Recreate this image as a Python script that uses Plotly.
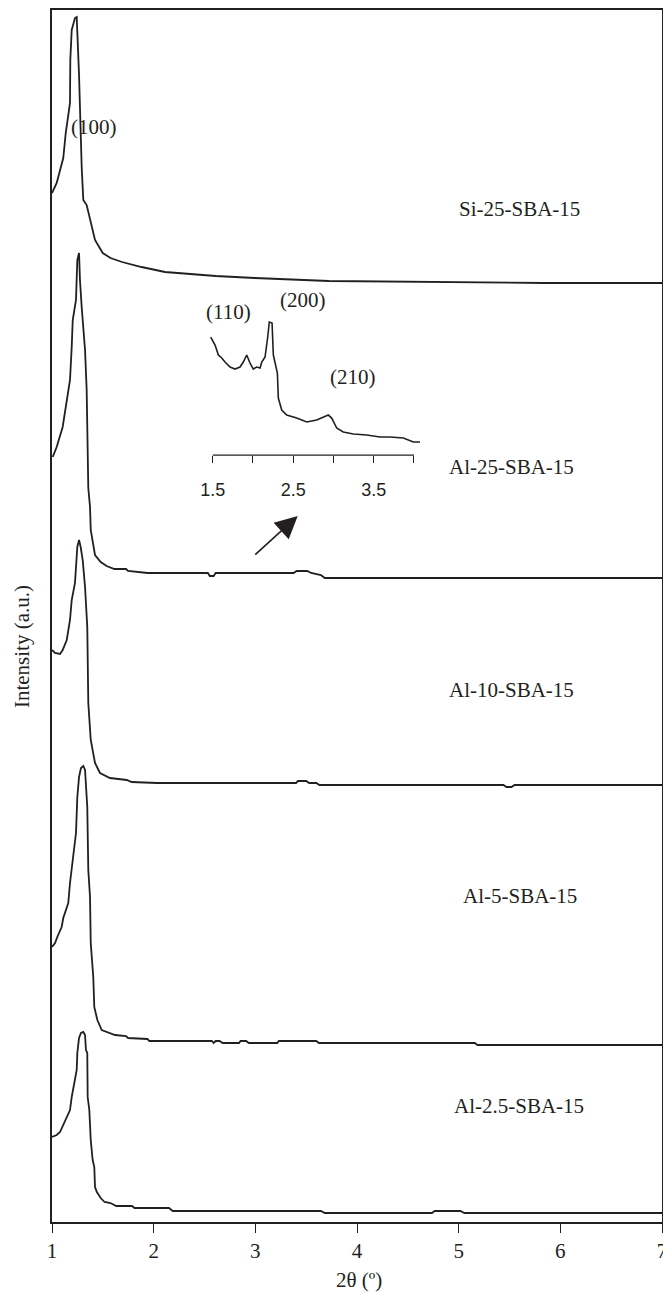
import plotly.graph_objects as go

# ---------------- data (2θ in degrees, intensity in arbitrary units) ----------------
si25_x = [1.000, 1.046, 1.111, 1.135, 1.177, 1.180, 1.194, 1.226, 1.243, 1.266, 1.292, 1.308, 1.341,
          1.423, 1.499, 1.575, 1.689, 1.881, 2.111, 2.322, 2.610, 2.993, 3.722, 5.849, 7.0]
si25_y = [90, 100, 125, 150, 180, 223, 253, 265, 266, 208, 116, 83, 78,
          43, 30, 25, 21, 16, 11, 9, 7, 5, 2, 0, 0]
si25_offset = 939

al25_x = [1.007, 1.046, 1.105, 1.145, 1.177, 1.194, 1.204, 1.236, 1.249, 1.266, 1.275, 1.292, 1.325,
          1.341, 1.357, 1.374, 1.381, 1.423, 1.479, 1.537, 1.614, 1.728, 1.748, 1.939, 2.533, 2.552,
          2.590, 2.610, 3.376, 3.407, 3.511, 3.549, 3.587, 3.645, 3.683, 7.0]
al25_y = [121, 131, 151, 178, 198, 231, 258, 278, 318, 325, 298, 271, 228,
          188, 90, 71, 48, 23, 16, 12, 9, 9, 7, 5, 5, 2,
          2, 5, 5, 7, 7, 5, 4, 3, 0, 0]
al25_offset = 644

al10_x = [1.000, 1.030, 1.079, 1.105, 1.145, 1.177, 1.194, 1.226, 1.249, 1.266, 1.282, 1.302, 1.325,
          1.347, 1.357, 1.381, 1.423, 1.472, 1.570, 1.735, 1.784, 2.030, 3.400, 3.420, 3.500, 3.530,
          3.600, 3.630, 5.440, 5.470, 5.520, 5.550, 7.0]
al10_y = [135, 132, 131, 135, 145, 165, 185, 202, 238, 245, 238, 225, 198,
          158, 82, 45, 22, 12, 7, 5, 3, 2, 2, 4, 4, 2,
          2, 0, 0, -2, -2, 0, 0]
al10_offset = 437

al5_x = [1.000, 1.030, 1.052, 1.095, 1.111, 1.160, 1.177, 1.209, 1.236, 1.249, 1.266, 1.285, 1.308,
         1.325, 1.334, 1.347, 1.357, 1.374, 1.381, 1.406, 1.416, 1.446, 1.489, 1.538, 1.620, 1.728,
         1.748, 1.939, 1.958, 2.572, 2.590, 2.610, 2.648, 2.679, 2.839, 2.855, 2.909, 2.936, 3.216,
         3.231, 3.599, 3.626, 5.158, 5.186, 7.0]
al5_y = [98, 102, 108, 118, 127, 142, 162, 188, 212, 248, 268, 277, 279,
         275, 262, 238, 175, 148, 102, 68, 38, 25, 15, 13, 10, 9,
         7, 6, 4, 4, 2, 4, 4, 2, 2, 4, 4, 2, 2,
         4, 4, 2, 2, 0, 0]
al5_offset = 177

al25b_x = [1.000, 1.046, 1.079, 1.111, 1.145, 1.177, 1.194, 1.216, 1.243, 1.249, 1.266, 1.285, 1.308,
           1.325, 1.334, 1.347, 1.351, 1.367, 1.381, 1.400, 1.416, 1.423, 1.441, 1.479, 1.517, 1.575,
           1.632, 1.786, 1.812, 2.150, 2.188, 3.645, 3.683, 4.737, 4.764, 5.017, 5.056, 7.0]
al25b_y = [76, 78, 81, 88, 95, 103, 116, 130, 143, 160, 175, 180, 181,
           178, 163, 160, 116, 103, 73, 53, 46, 26, 21, 15, 11, 10,
           7, 7, 5, 5, 2, 2, 0, 0, 2, 2, 0, 0]
al25b_offset = 9

# inset: enlarged Al-25-SBA-15 pattern
inset_x = [1.475, 1.529, 1.570, 1.612, 1.653, 1.715, 1.777, 1.839, 1.880, 1.922, 1.963, 2.004, 2.046,
           2.088, 2.109, 2.150, 2.183, 2.203, 2.237, 2.253, 2.303, 2.315, 2.357, 2.419, 2.543, 2.668,
           2.792, 2.874, 2.936, 2.978, 3.040, 3.122, 3.247, 3.413, 3.578, 3.702, 3.868, 3.992, 4.075]
inset_y = [118, 110, 100, 97, 93, 88, 86, 88, 93, 100, 92, 86, 88,
           87, 93, 98, 118, 133, 132, 100, 82, 57, 45, 40, 37, 33,
           35, 38, 40, 37, 27, 23, 21, 20, 18, 18, 17, 13, 13]

series_names = ["Si-25-SBA-15", "Al-25-SBA-15", "Al-10-SBA-15", "Al-5-SBA-15", "Al-2.5-SBA-15"]
main_ticks = [1, 2, 3, 4, 5, 6, 7]
inset_ticks = [1.5, 2.0, 2.5, 3.0, 3.5, 4.0]
inset_ticktext = ["1.5", "", "2.5", "", "3.5", ""]
peak_labels = ["(110)", "(200)", "(210)"]

# ---------------- figure ----------------
INK = "#231f20"
SERIF = "Liberation Serif, Times New Roman, serif"
SANS = "Liberation Sans, Arial, sans-serif"

fig = go.Figure()
series = [
    (si25_x, si25_y, si25_offset),
    (al25_x, al25_y, al25_offset),
    (al10_x, al10_y, al10_offset),
    (al5_x, al5_y, al5_offset),
    (al25b_x, al25b_y, al25b_offset),
]
for name, (xs, ys, off) in zip(series_names, series):
    fig.add_trace(go.Scatter(x=xs, y=[v + off for v in ys], mode="lines", name=name,
                             line=dict(color=INK, width=1.8), showlegend=False,
                             xaxis="x", yaxis="y"))

fig.add_trace(go.Scatter(x=inset_x, y=inset_y, mode="lines", name="inset",
                         line=dict(color=INK, width=1.6), showlegend=False,
                         xaxis="x2", yaxis="y2"))

fig.update_layout(
    width=663, height=1292,
    margin=dict(l=52, r=1, t=10, b=70, autoexpand=False),
    paper_bgcolor="white", plot_bgcolor="white",
    xaxis=dict(range=[1, 7], domain=[0, 1], tickvals=main_ticks, ticks="outside", ticklen=9,
               tickwidth=1.3, tickcolor=INK, showline=True, linecolor=INK, linewidth=1.5,
               mirror=True, showgrid=False, zeroline=False, ticklabelstandoff=0,
               ticklabeloverflow="allow", automargin=False,
               tickfont=dict(family=SERIF, size=21, color=INK)),
    yaxis=dict(range=[0, 1212], domain=[0, 1], showticklabels=False, ticks="", showline=True,
               linecolor=INK, linewidth=1.5, mirror=True, showgrid=False, zeroline=False,
               automargin=False),
    xaxis2=dict(range=[1.45, 4.1], domain=[0.2569, 0.6066], anchor="y2", tickvals=inset_ticks,
                ticktext=inset_ticktext, ticks="outside", ticklen=7, tickwidth=1.2,
                tickcolor=INK, showline=False, showgrid=False, zeroline=False,
                ticklabelstandoff=11, automargin=False,
                tickfont=dict(family=SANS, size=18, color=INK)),
    yaxis2=dict(range=[0, 170], domain=[0.6328, 0.7731], anchor="x2", visible=False),
)

# inset axis line from 1.5 to 4.0
fig.add_shape(type="line", xref="x2", yref="y2 domain", x0=inset_ticks[0], x1=inset_ticks[-1],
              y0=0, y1=0, line=dict(color=INK, width=1.3))

ann_font = dict(family=SERIF, size=21, color=INK)
# series labels
label_pos = [(5.603, 1013), (5.524, 755), (5.524, 532), (5.603, 326), (5.593, 116)]
for name, (lx, ly) in zip(series_names, label_pos):
    fig.add_annotation(x=lx, y=ly, xref="x", yref="y", text=name, showarrow=False, font=ann_font,
                       xanchor="center", yanchor="middle")

fig.add_annotation(x=1.413, y=1095, xref="x", yref="y", text="(100)", showarrow=False, font=ann_font,
                   xanchor="center", yanchor="middle")
for txt, (px, py) in zip(peak_labels, [(1.690, 143), (2.622, 155), (3.243, 78)]):
    fig.add_annotation(x=px, y=py, xref="x2", yref="y2", text=txt, showarrow=False, font=ann_font,
                       xanchor="center", yanchor="middle")

# arrow pointing to the inset
fig.add_annotation(x=3.417, y=706, xref="x", yref="y", ax=-44, ay=40, axref="pixel", ayref="pixel",
                   text="", showarrow=True, arrowhead=2, arrowsize=2.8, arrowwidth=1.6,
                   arrowcolor=INK)

# axis titles
fig.add_annotation(x=-0.0492, y=0.4752, xref="paper", yref="paper", text="Intensity (a.u.)",
                   textangle=-90, showarrow=False, font=ann_font, xanchor="center", yanchor="middle")
fig.add_annotation(x=(359 - 52) / 610, y=-0.0475, xref="paper", yref="paper", text="2θ (º)",
                   showarrow=False, font=ann_font, xanchor="center", yanchor="middle")

fig.write_html("out.html")
